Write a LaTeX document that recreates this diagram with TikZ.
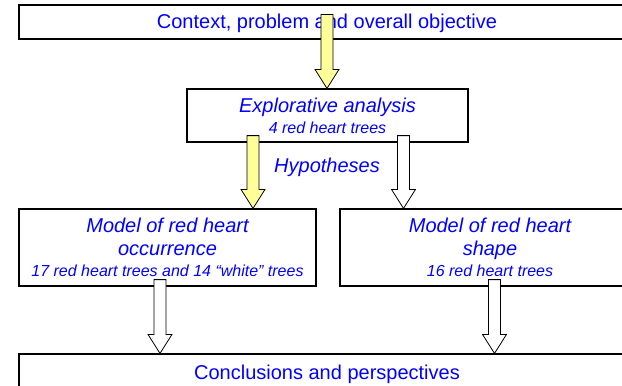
\documentclass[tikz,border=0pt]{standalone}
\usepackage{fontspec}
\setmainfont{Liberation Sans}
\usetikzlibrary{calc}
\definecolor{txtblue}{RGB}{0,0,255}
\definecolor{arrowyellow}{RGB}{255,255,153}
\newcommand\blockarrow[3]{%
  \filldraw[fill=#3, draw=black, line width=0.8pt, line join=miter]
    let \p1=(#1), \p2=(#2) in
    (\x1-6pt,\y1) -- (\x1+6pt,\y1) -- (\x1+6pt,\y2+19pt) -- (\x1+12pt,\y2+19pt)
    -- (\x1,\y2) -- (\x1-12pt,\y2+19pt) -- (\x1-6pt,\y2+19pt) -- cycle;}
\begin{document}
\begin{tikzpicture}[x=1pt,y=-1pt,
  box/.style={draw=black, line width=1.2pt, inner sep=0pt, text=txtblue, align=center,
    font=\fontsize{20}{23}\selectfont, text depth=1pt},
  ibox/.style={draw=black, line width=1.2pt, inner sep=0pt, text=txtblue, align=center,
    font=\fontsize{20}{23}\selectfont\itshape, text depth=0pt},
  lbl/.style={text=txtblue, inner sep=0pt, font=\fontsize{20}{23}\selectfont\itshape}]
\useasboundingbox (0,0) rectangle (622,386);
\clip (0,0) rectangle (622,386);
\fill[white] (0,0) rectangle (622,386);
\node[box, minimum width=616pt, minimum height=34pt] (ctx) at (327,22) {Context, problem and overall objective};
\node[ibox, minimum width=281pt, minimum height=53pt] (expl) at (327.5,115.5)
  {Explorative analysis\\[-2pt]{\fontsize{16}{19}\selectfont 4 red heart trees}};
\node[ibox, minimum width=297pt, minimum height=77pt] (occ) at (167.5,247.5)
  {Model of red heart\\occurrence\\[-2pt]{\fontsize{16}{19}\selectfont 17 red heart trees and 14 “white” trees}};
\node[ibox, minimum width=300pt, minimum height=77pt] (shp) at (490,247.5)
  {Model of red heart\\shape\\[-2pt]{\fontsize{16}{19}\selectfont 16 red heart trees}};
\node[box, minimum width=616pt, minimum height=38pt] (concl) at (327,373) {Conclusions and perspectives};
\node[lbl] (hyp) at (327,167) {Hypotheses};
\coordinate (a1s) at ($(ctx.north)+(0,10)$);
\coordinate (a1e) at (a1s |- expl.north);
\coordinate (a2s) at ($(expl.south)+(-74.5,-7)$);
\coordinate (a2e) at (a2s |- occ.north);
\coordinate (a3s) at ($(expl.south)+(76,-7)$);
\coordinate (a3e) at (a3s |- shp.north);
\coordinate (a4s) at ($(occ.south)+(-7.5,-7)$);
\coordinate (a4e) at (a4s |- concl.north);
\coordinate (a5s) at ($(shp.south)+(4.5,-7)$);
\coordinate (a5e) at (a5s |- concl.north);
\blockarrow{a1s}{a1e}{arrowyellow}
\blockarrow{a2s}{a2e}{arrowyellow}
\blockarrow{a3s}{a3e}{white}
\blockarrow{a4s}{a4e}{white}
\blockarrow{a5s}{a5e}{white}
\end{tikzpicture}
\end{document}
